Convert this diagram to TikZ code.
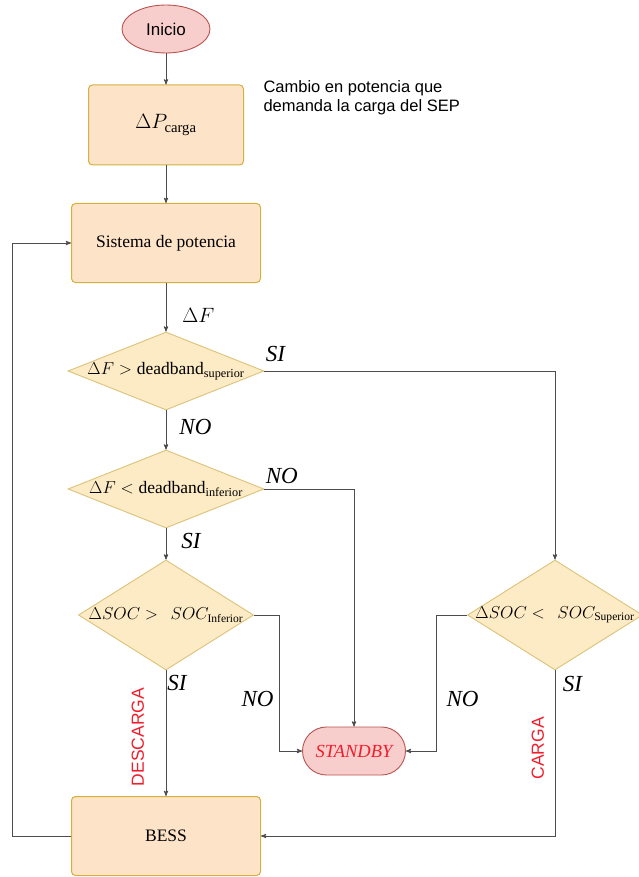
\documentclass[tikz,border=0pt]{standalone}
\usepackage{amsmath}
\usepackage{fontspec}
\setmainfont{Liberation Serif}
\setsansfont{Liberation Sans}
\usepackage{tikz}
\usetikzlibrary{arrows,shapes.geometric,positioning}

\definecolor{boxfill}{HTML}{FDE3C8}
\definecolor{boxline}{HTML}{D4B03E}
\definecolor{condfill}{HTML}{FCEBC4}
\definecolor{condline}{HTML}{DCC27A}
\definecolor{termfill}{HTML}{F8CECC}
\definecolor{termline}{HTML}{B85450}
\definecolor{wirecol}{HTML}{4D4D4D}
\definecolor{accion}{HTML}{F01E2C}

\begin{document}
\begin{tikzpicture}[x=1pt,y=-1pt,->,>=stealth',node distance=118pt,
  term node/.style={ellipse,fill=termfill,draw=termline,line width=0.9pt,minimum width=88pt,minimum height=48pt,inner sep=0pt,font=\sffamily\fontsize{17}{20}\selectfont},
  stop node/.style={rectangle,rounded corners=24pt,fill=termfill,draw=termline,line width=0.9pt,minimum width=103pt,minimum height=48pt,inner sep=0pt,text=accion,font=\fontsize{18.5}{22}\selectfont\itshape},
  rec node/.style={rectangle,rounded corners=4pt,fill=boxfill,draw=boxline,line width=1pt,minimum width=189pt,minimum height=79pt,font=\fontsize{17.5}{21}\selectfont},
  cond node/.style={diamond,fill=condfill,draw=condline,line width=0.9pt,inner sep=0pt,minimum width=196pt,minimum height=78pt,font=\fontsize{17.5}{21}\selectfont},
  soc node/.style={cond node,minimum width=175pt,minimum height=110pt,font=\fontsize{16.5}{20}\selectfont},
  lbl/.style={font=\fontsize{23}{26}\selectfont\itshape,inner sep=1pt},
  act/.style={text=accion,font=\sffamily\fontsize{17.5}{20}\selectfont,inner sep=0pt},
  wire/.style={draw=wirecol,line width=0.9pt}]

  \useasboundingbox (0,0) rectangle (639,877);

  \node[term node] (inicio) at (166,29) {Inicio};
  \node[rec node,minimum width=155pt,minimum height=80pt] (dpcarga) [node distance=96pt,below of=inicio] {\fontsize{21}{24}\selectfont$\Delta P_{\text{carga}}$};
  \node[align=left,font=\sffamily\fontsize{16.5}{19}\selectfont] (nota) [node distance=94pt,right of=dpcarga,anchor=west,yshift=27.5pt] {Cambio en potencia que\\demanda la carga del SEP};
  \node[rec node] (sistema) [node distance=118pt,below of=dpcarga] {Sistema de potencia};
  \node[cond node] (dfsup) [node distance=128pt,below of=sistema] {\makebox[0pt]{$\Delta F > \text{deadband}_{\text{superior}}$}};
  \node[cond node] (dfinf) [node distance=118pt,below of=dfsup] {\makebox[0pt]{$\Delta F < \text{deadband}_{\text{inferior}}$}};
  \node[soc node] (socinf) [node distance=126pt,below of=dfinf] {\makebox[0pt]{$\Delta SOC >\;\, SOC_{\text{Inferior}}$}};
  \node[soc node] (socsup) [node distance=389pt,right of=socinf] {\makebox[0pt]{$\Delta SOC <\;\, SOC_{\text{Superior}}$}};
  \node[stop node] (standby) [node distance=136pt,below of=socinf,xshift=188pt] {STANDBY};
  \node[rec node] (bess) [node distance=221pt,below of=socinf] {BESS};
  \coordinate (retorno) at (12,836);

  \path[wire]
    (inicio) edge (dpcarga)
    (dpcarga) edge (sistema)
    (sistema) edge node[lbl,font=\fontsize{21}{24}\selectfont,right,pos=0.66,xshift=15pt] {$\Delta F$} (dfsup)
    (dfsup) edge node[lbl,right,pos=0.43,xshift=12pt] {NO} (dfinf)
    (dfinf) edge node[lbl,right,pos=0.4,xshift=14pt] {SI} (socinf);

  \draw[wire] (dfsup.east) -| node[lbl,pos=0,anchor=south west,yshift=8pt] {SI} (socsup.north);
  \draw[wire] (dfinf.east) -| node[lbl,pos=0,anchor=south west,yshift=3.5pt] {NO} (standby.north);
  \draw[wire] (socinf.east) -- ++(25,0) |- node[lbl,pos=0.31,left,xshift=-4pt] {NO} (standby.west);
  \draw[wire] (socsup.west) -- ++(-31,0) |- node[lbl,pos=0.31,right,xshift=9pt] {NO} (standby.east);
  \draw[wire] (socinf) -- node[lbl,pos=0.1,right] {SI}
    node[act,pos=0.53,rotate=90,anchor=south,yshift=21.5pt] {DESCARGA} (bess);
  \draw[wire] (socsup.south) |- node[lbl,pos=0.04,right,xshift=6.5pt] {SI}
    node[act,pos=0.235,rotate=90,anchor=south,yshift=10.5pt] {CARGA} (bess.east);
  % lazo de realimentacion
  \draw[wire] (bess.west) -- (retorno) |- (sistema.west);

\end{tikzpicture}
\end{document}
